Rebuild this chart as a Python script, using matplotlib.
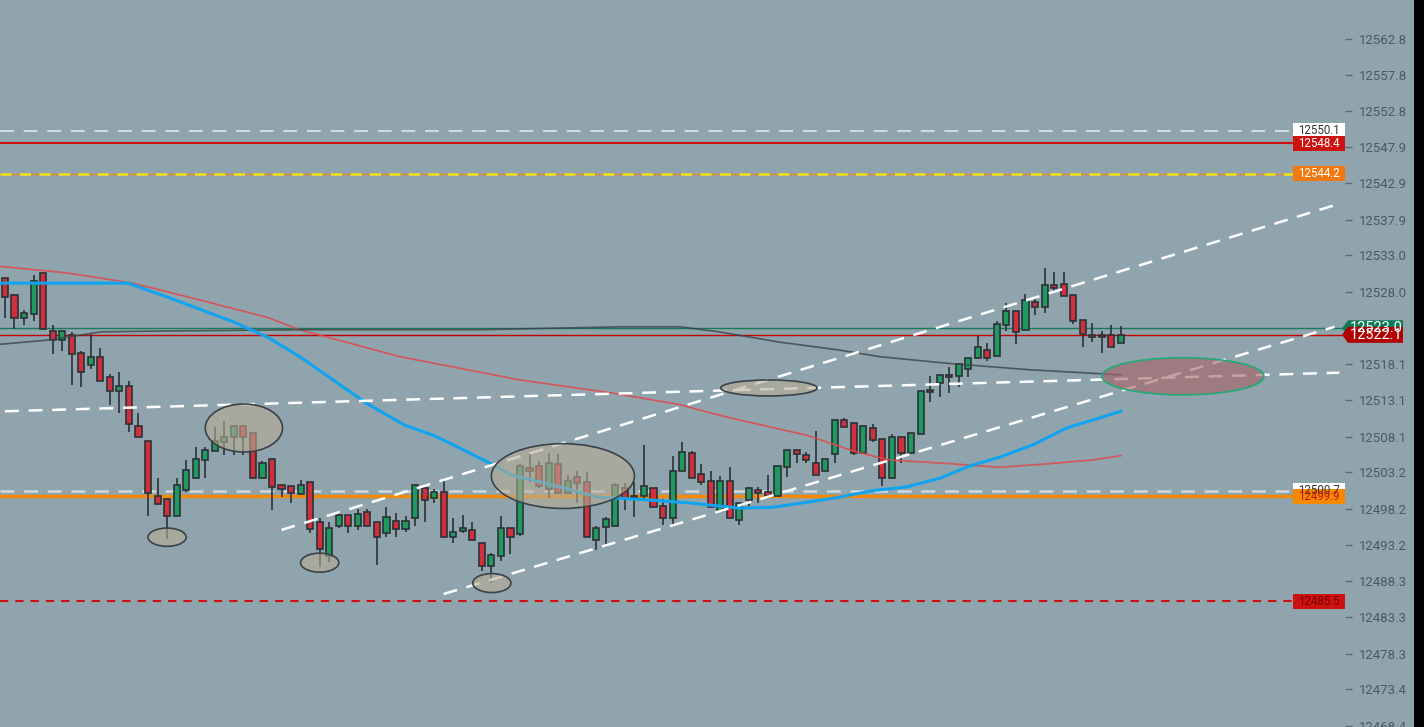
import matplotlib
matplotlib.use("Agg")
import matplotlib.pyplot as plt
import matplotlib.transforms as mtransforms
from matplotlib.patches import Rectangle, Ellipse, Polygon

W, H = 1424, 727
BG = "#8fa4ac"
plt.rcParams["lines.scale_dashes"] = False
plt.rcParams["font.family"] = ["Roboto", "DejaVu Sans"]

# candles (OHLC), one per bar
opens = [12529.9, 12527.6, 12524.4, 12524.9, 12530.6, 12522.6, 12521.4, 12522.1, 12519.6, 12518.0,
         12519.1, 12516.3, 12514.4, 12515.1, 12509.6, 12507.5, 12500.0, 12499.5, 12497.2, 12500.8,
         12502.4, 12504.9, 12506.1, 12507.4, 12508.0, 12509.6, 12508.6, 12502.4, 12505.0, 12501.5,
         12501.3, 12500.2, 12501.9, 12496.4, 12491.7, 12495.8, 12497.3, 12495.8, 12497.8, 12496.4,
         12494.9, 12496.5, 12495.4, 12496.9, 12501.1, 12499.7, 12500.5, 12494.3, 12495.1, 12495.3,
         12493.5, 12490.4, 12491.7, 12495.6, 12494.8, 12503.8, 12504.1, 12500.9, 12504.4, 12500.4,
         12502.6, 12501.9, 12493.9, 12495.7, 12495.8, 12501.1, 12499.8, 12500.0, 12501.1, 12498.6,
         12496.9, 12503.4, 12505.9, 12503.0, 12502.0, 12497.9, 12502.0, 12496.7, 12499.4, 12500.8,
         12500.5, 12500.0, 12503.9, 12506.3, 12505.6, 12504.5, 12503.4, 12505.7, 12510.4, 12510.0,
         12505.9, 12509.3, 12507.8, 12502.4, 12508.1, 12505.9, 12508.5, 12514.5, 12515.5, 12516.6,
         12516.4, 12517.4, 12518.9, 12520.0, 12519.2, 12523.4, 12525.4, 12522.8, 12526.6, 12525.9,
         12528.9, 12529.1, 12527.6, 12524.1, 12522.1, 12522.1, 12522.1, 12521.0]
highs = [12529.9, 12527.7, 12525.5, 12530.3, 12530.7, 12523.4, 12522.8, 12522.5, 12519.9, 12522.2,
         12520.3, 12516.7, 12517.0, 12515.8, 12511.4, 12507.5, 12502.4, 12499.5, 12502.4, 12504.9,
         12506.7, 12506.7, 12509.4, 12510.3, 12509.6, 12509.7, 12508.6, 12504.8, 12505.0, 12501.5,
         12501.3, 12502.2, 12501.9, 12496.9, 12496.4, 12497.8, 12497.3, 12498.2, 12498.2, 12496.4,
         12498.4, 12497.6, 12497.2, 12501.5, 12501.1, 12500.9, 12502.2, 12496.9, 12497.3, 12496.4,
         12493.5, 12492.1, 12497.2, 12495.6, 12504.4, 12505.7, 12504.8, 12505.9, 12505.7, 12502.8,
         12503.4, 12503.3, 12495.8, 12497.1, 12501.8, 12501.8, 12501.9, 12507.0, 12501.1, 12499.5,
         12505.5, 12507.4, 12506.1, 12504.4, 12503.4, 12502.7, 12503.9, 12499.0, 12501.2, 12501.2,
         12502.8, 12504.1, 12506.3, 12506.3, 12506.0, 12508.9, 12505.0, 12510.4, 12510.7, 12510.0,
         12509.6, 12509.8, 12507.8, 12508.5, 12508.1, 12508.6, 12514.4, 12516.4, 12516.6, 12517.7,
         12518.2, 12518.9, 12521.9, 12521.0, 12524.0, 12526.5, 12525.4, 12527.7, 12527.0, 12531.3,
         12530.7, 12530.7, 12527.6, 12524.1, 12523.7, 12522.6, 12523.4, 12523.3]
lows = [12524.4, 12522.9, 12523.4, 12524.0, 12522.8, 12519.5, 12519.9, 12515.2, 12514.9, 12517.4,
        12515.8, 12512.5, 12511.4, 12508.8, 12508.0, 12497.2, 12498.9, 12494.1, 12497.2, 12500.5,
        12502.4, 12502.4, 12506.1, 12505.6, 12505.6, 12505.6, 12502.3, 12502.4, 12498.0, 12499.8,
        12499.0, 12500.1, 12494.9, 12490.2, 12490.9, 12495.6, 12494.9, 12495.3, 12495.8, 12490.5,
        12494.3, 12494.3, 12495.0, 12495.8, 12496.4, 12499.0, 12494.3, 12493.5, 12494.9, 12493.9,
        12489.7, 12488.0, 12491.0, 12492.0, 12494.5, 12501.9, 12501.1, 12499.7, 12500.4, 12500.4,
        12499.0, 12494.3, 12492.5, 12493.0, 12495.8, 12498.0, 12497.1, 12499.5, 12498.5, 12496.0,
        12496.0, 12503.4, 12502.4, 12501.5, 12498.5, 12497.9, 12496.9, 12496.0, 12498.6, 12499.0,
        12500.0, 12500.0, 12502.6, 12504.5, 12504.5, 12502.8, 12503.4, 12504.5, 12509.4, 12505.6,
        12505.9, 12507.4, 12501.3, 12502.4, 12504.5, 12505.9, 12508.5, 12512.9, 12513.6, 12514.1,
        12514.9, 12516.3, 12518.9, 12518.5, 12519.2, 12522.6, 12520.8, 12522.8, 12524.8, 12525.1,
        12528.1, 12527.4, 12523.6, 12520.4, 12521.1, 12519.6, 12520.4, 12521.0]
closes = [12527.3, 12524.4, 12525.1, 12529.5, 12522.9, 12521.4, 12522.6, 12519.5, 12517.0, 12519.1,
          12515.8, 12514.4, 12515.1, 12509.9, 12508.0, 12500.4, 12498.9, 12497.2, 12501.5, 12503.5,
          12505.0, 12506.3, 12507.5, 12508.1, 12509.6, 12508.0, 12502.4, 12504.5, 12501.2, 12500.9,
          12500.4, 12501.5, 12495.4, 12492.7, 12495.6, 12497.3, 12495.8, 12497.5, 12495.8, 12494.3,
          12497.1, 12495.4, 12496.5, 12501.5, 12499.4, 12500.5, 12494.3, 12495.0, 12495.6, 12493.9,
          12490.4, 12491.9, 12495.6, 12494.3, 12504.1, 12503.4, 12501.3, 12504.5, 12500.4, 12502.0,
          12501.8, 12494.3, 12495.6, 12496.8, 12501.5, 12499.6, 12499.7, 12501.3, 12498.5, 12496.9,
          12503.4, 12506.0, 12502.4, 12501.9, 12498.5, 12502.0, 12496.9, 12499.0, 12501.1, 12500.4,
          12500.0, 12504.1, 12506.3, 12505.7, 12504.9, 12502.8, 12505.0, 12510.4, 12509.4, 12505.9,
          12509.6, 12507.6, 12502.4, 12508.1, 12505.9, 12508.6, 12514.4, 12514.2, 12516.6, 12516.3,
          12518.1, 12518.9, 12520.4, 12518.9, 12523.6, 12525.4, 12522.5, 12526.9, 12525.9, 12528.9,
          12528.5, 12527.4, 12524.0, 12522.2, 12521.8, 12521.8, 12520.4, 12522.1]

# moving averages (bar index, price)
blue_x = [-0.5, 5.8, 12.9, 17.0, 23.9, 27.5, 30.9, 34.4, 37.9, 41.9, 44.9, 47.0, 50.8, 53.2, 56.1, 58.5,
          62.1, 66.6, 71.8, 77.0, 80.5, 84.1, 87.5, 91.0, 94.5, 98.0, 101.2, 104.3, 107.8, 111.3, 114.8, 117.0]
blue_y = [12529.2, 12529.2, 12529.2, 12527.3, 12523.9, 12521.8, 12519.1, 12515.9, 12512.7, 12509.7, 12508.3,
          12507.0, 12504.5, 12502.8, 12501.9, 12501.1, 12499.8, 12499.5, 12499.0, 12498.3, 12498.4, 12499.1,
          12499.8, 12500.7, 12501.2, 12502.4, 12504.1, 12505.3, 12507.0, 12509.3, 12510.7, 12511.6]
red_x = [-0.5, 6.5, 13.4, 20.4, 27.5, 30.9, 41.4, 54.0, 63.7, 70.8, 73.6, 77.0, 84.1, 89.3, 92.8, 99.1,
         104.3, 109.5, 114.0, 117.0]
red_y = [12531.5, 12530.6, 12529.2, 12526.9, 12524.5, 12522.8, 12519.1, 12515.9, 12514.1, 12512.5, 12511.5,
         12510.4, 12508.3, 12506.0, 12504.9, 12504.4, 12503.9, 12504.4, 12504.9, 12505.5]
gray_x = [-0.5, 4.7, 10.0, 15.2, 30.9, 49.8, 64.5, 70.8, 74.9, 81.2, 87.5, 91.7, 98.7, 107.4, 117.0]
gray_y = [12520.8, 12521.4, 12522.5, 12522.6, 12522.8, 12522.8, 12523.2, 12523.2, 12522.5, 12521.1,
          12520.0, 12519.1, 12518.2, 12517.3, 12516.6]

# trend lines ((x0, y0), (x1, y1)) in bar index / price
trend_lines = [((29.0, 12495.3), (139.9, 12540.1)),
               ((46.0, 12486.5), (139.4, 12523.2)),
               ((0.0, 12511.6), (139.9, 12516.9))]

# highlight ellipses: center bar, center price, width (bars), height (price)
ellipses = [(17.0, 12494.3, 4.0, 2.5), (25.05, 12509.3, 8.1, 6.6), (33.0, 12490.8, 4.0, 2.6),
            (51.05, 12488.0, 4.0, 2.6), (58.5, 12502.7, 15.0, 8.9), (80.1, 12514.8, 10.1, 2.2)]
zone = (123.5, 12516.4, 17.0, 5.1)

# y axis ticks (12523.0 sits under the price tags)
tick_vals = [12562.8, 12557.8, 12552.8, 12547.9, 12542.9, 12537.9, 12533.0, 12528.0, 12523.0,
             12518.1, 12513.1, 12508.1, 12503.2, 12498.2, 12493.2, 12488.3, 12483.3, 12478.3,
             12473.4, 12468.4]

fig = plt.figure(figsize=(W / 100, H / 100), dpi=100, facecolor=BG)
ax = fig.add_axes([0, 0, 1345 / W, 1])
ax.set_facecolor(BG)
for s in ax.spines.values():
    s.set_visible(False)
ax.set_xlim(-0.52, 140.5)
ax.set_ylim(12468.23, 12568.09)
ax.set_xticks([])
ax.yaxis.tick_right()
ax.set_yticks(tick_vals)
ax.set_yticklabels(["" if v == 12523.0 else f"{v:.1f}" for v in tick_vals])
ax.tick_params(axis="y", length=5, width=1, color="#5f6b74", pad=5, labelsize=9.5, labelcolor="#4d5962")

u = (12568.09 - 12468.23) / H  # price per pixel

# horizontal levels
ax.axhline(12550.1, color="#d2d9dc", lw=1.5, dashes=(10, 7), zorder=1)
ax.axhline(12548.4, color="#cc1111", lw=1.5, zorder=1)
ax.axhline(12544.2, color="#e0902a", lw=1.0, zorder=1)
ax.axhline(12544.2, color="#f2e21c", lw=1.8, dashes=(8, 6), zorder=1)
ax.axhline(12523.0, color="#177a58", lw=1.0, zorder=1)
ax.axhline(12522.1, color="#c40000", lw=1.0, zorder=1)
ax.axhline(12500.7, color="#d2d9dc", lw=1.8, dashes=(10, 7), zorder=1)
ax.axhline(12499.9, color="#f58a00", lw=2.4, zorder=1)
ax.axhline(12485.5, color="#d01010", lw=1.5, dashes=(6, 5), zorder=1)

# candles
for i, (o, h, l, c) in enumerate(zip(opens, highs, lows, closes)):
    fc = "#1f9960" if c >= o else "#d22f3c"
    ax.vlines(i, l, h, color="#2b3236", lw=1.2, zorder=3)
    ax.add_patch(Rectangle((i - 0.32, min(o, c)), 0.64, max(abs(c - o), 0.2),
                           facecolor=fc, edgecolor="#2b3236", lw=1.2, zorder=4))

ax.plot(red_x, red_y, color="#e04848", lw=1.2, alpha=0.85, zorder=4.5)
ax.plot(gray_x, gray_y, color="#3b444c", lw=1.2, alpha=0.8, zorder=4.5)
ax.plot(blue_x, blue_y, color="#10a4f0", lw=2.2, zorder=4.6)

for (x0, y0), (x1, y1) in trend_lines:
    ax.plot([x0, x1], [y0, y1], color="white", lw=1.8, dashes=(10, 7), zorder=5)

for cx, cy, w, h in ellipses:
    ax.add_patch(Ellipse((cx, cy), w, h, facecolor=(185 / 255, 174 / 255, 149 / 255, 0.6),
                         edgecolor="#3b4247", lw=1.2, zorder=6))
ax.add_patch(Ellipse(zone[:2], zone[2], zone[3], facecolor=(168 / 255, 96 / 255, 99 / 255, 0.6),
                     edgecolor="#20aa78", lw=1.2, zorder=6))

# price tags
tr = mtransforms.blended_transform_factory(fig.transFigure, ax.transData)


def tag(value, face, txt_color, hpx=15):
    r = Rectangle((1293 / W, value - hpx / 2 * u), 52 / W, hpx * u, transform=tr,
                  facecolor=face, edgecolor="none", zorder=7, clip_on=False)
    ax.add_patch(r)
    ax.text(1319 / W, value, f"{value:.1f}", transform=tr, ha="center", va="center",
            fontsize=8.3, color=txt_color, zorder=8, clip_on=False)


def arrow_tag(value, face, hpx=16):
    pts = [(1342 / W, value), (1348 / W, value + hpx / 2 * u), (1403 / W, value + hpx / 2 * u),
           (1403 / W, value - hpx / 2 * u), (1348 / W, value - hpx / 2 * u)]
    ax.add_patch(Polygon(pts, closed=True, transform=tr, facecolor=face, edgecolor="none",
                         zorder=9, clip_on=False))
    ax.text(1376 / W, value, f"{value:.1f}", transform=tr, ha="center", va="center",
            fontsize=10.5, color="white", zorder=10, clip_on=False)


tag(12550.1, "white", "#333333")
tag(12548.4, "#cc1111", "white")
tag(12544.2, "#f07a10", "white")
tag(12500.7, "white", "#333333")
tag(12499.9, "#f58a00", "#d01010")
tag(12485.5, "#cc1111", "#7a0000")
arrow_tag(12523.0, "#0f7a58")
arrow_tag(12522.1, "#b00000")

fig.patches.append(Rectangle((1414 / W, 0), 10 / W, 1, transform=fig.transFigure,
                             facecolor="black", edgecolor="none"))

fig.savefig("out.png", dpi=100, facecolor=BG)
